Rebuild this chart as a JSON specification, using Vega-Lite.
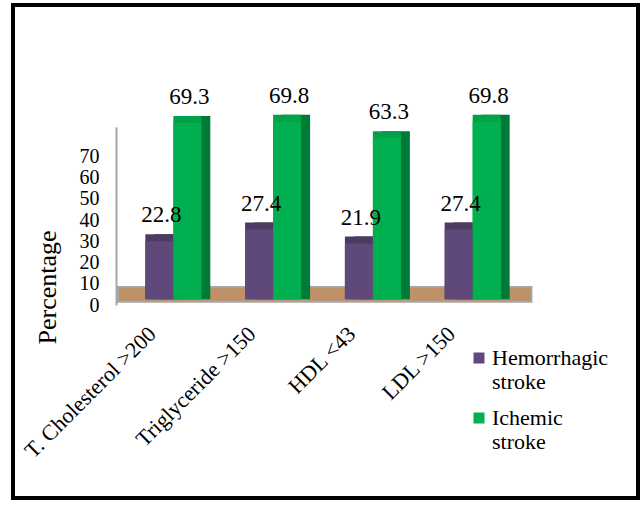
{
  "$schema": "https://vega.github.io/schema/vega-lite/v6.json",
  "autosize": {"type": "none"},
  "width": 625,
  "height": 493,
  "padding": {"left": 13, "top": 5, "right": 3, "bottom": 8},
  "background": "white",
  "config": {
    "view": {"stroke": "black", "strokeWidth": 4},
    "font": "Liberation Serif",
    "axis": {"labelFont": "Liberation Serif", "titleFont": "Liberation Serif", "labelColor": "black", "titleColor": "black"},
    "legend": {"labelFont": "Liberation Serif", "labelColor": "black"},
    "text": {"font": "Liberation Serif"}
  },
  "data": {
    "values": [
      {"factor": "T. Cholesterol >200", "stroke": "Hemorrhagic stroke", "pct": 22.8},
      {"factor": "T. Cholesterol >200", "stroke": "Ichemic stroke", "pct": 69.3},
      {"factor": "Triglyceride >150", "stroke": "Hemorrhagic stroke", "pct": 27.4},
      {"factor": "Triglyceride >150", "stroke": "Ichemic stroke", "pct": 69.8},
      {"factor": "HDL <43", "stroke": "Hemorrhagic stroke", "pct": 21.9},
      {"factor": "HDL <43", "stroke": "Ichemic stroke", "pct": 63.3},
      {"factor": "LDL >150", "stroke": "Hemorrhagic stroke", "pct": 27.4},
      {"factor": "LDL >150", "stroke": "Ichemic stroke", "pct": 69.8}
    ]
  },
  "encoding": {
    "x": {
      "field": "factor",
      "type": "nominal",
      "scale": {
        "domain": ["T. Cholesterol >200", "Triglyceride >150", "HDL <43", "LDL >150"],
        "range": [105, 515],
        "paddingInner": 0.439,
        "paddingOuter": 0.274
      },
      "axis": {
        "title": null,
        "orient": "bottom",
        "offset": -193,
        "domain": false,
        "ticks": false,
        "labelAngle": -45,
        "labelAlign": "right",
        "labelBaseline": "middle",
        "labelPadding": 25,
        "labelOffset": -21,
        "labelFontSize": 22,
        "labelLimit": 300
      }
    }
  },
  "resolve": {"scale": {"y": "independent", "color": "independent", "xOffset": "independent"}},
  "layer": [
    {
      "data": {"values": [{}]},
      "mark": {"type": "rect", "color": "#bf9169", "stroke": "#a6a6a6", "strokeWidth": 2},
      "encoding": {
        "x": {"datum": "T. Cholesterol >200", "bandPosition": -0.49},
        "x2": {"datum": "LDL >150", "bandPosition": 1.55},
        "y": {"datum": 4.8, "type": "quantitative", "scale": {"domain": [0, 70], "range": [294.3, 116.15]}, "axis": null},
        "y2": {"datum": -1.0}
      }
    },
    {
      "mark": {"type": "bar", "yOffset": -7},
      "encoding": {
        "xOffset": {"field": "stroke", "type": "nominal", "scale": {"range": [9, 64.98]}},
        "y": {"field": "pct", "type": "quantitative", "scale": {"domain": [0, 70], "range": [294.3, 116.15]}, "axis": null},
        "y2": {"datum": 0},
        "color": {"field": "stroke", "type": "nominal", "scale": {"range": ["#3f3152", "#007a37"]}, "legend": null}
      }
    },
    {
      "mark": {"type": "bar", "yOffset": -7},
      "encoding": {
        "xOffset": {"field": "stroke", "type": "nominal", "scale": {"range": [0, 55.98]}},
        "y": {"field": "pct", "type": "quantitative", "scale": {"domain": [0, 70], "range": [294.3, 116.15]}, "axis": null},
        "y2": {"datum": 0},
        "color": {"field": "stroke", "type": "nominal", "scale": {"range": ["#4b3b62", "#00a247"]}, "legend": null}
      }
    },
    {
      "mark": {"type": "bar"},
      "encoding": {
        "xOffset": {"field": "stroke", "type": "nominal", "scale": {"range": [0, 55.98]}},
        "y": {"field": "pct", "type": "quantitative", "scale": {"domain": [0, 70], "range": [294.3, 116.15]}, "axis": null},
        "y2": {"datum": 0},
        "color": {
          "field": "stroke",
          "type": "nominal",
          "scale": {"domain": ["Hemorrhagic stroke", "Ichemic stroke"], "range": ["#5f497a", "#00b050"]},
          "legend": {
            "title": null,
            "orient": "none",
            "legendX": 455,
            "legendY": 342,
            "padding": 0,
            "symbolType": "square",
            "symbolSize": 121,
            "symbolStrokeWidth": 0,
            "labelFont": "Liberation Serif",
            "labelFontSize": 22,
            "labelOffset": 2,
            "labelLimit": 200,
            "labelExpr": "split(datum.label, ' ')",
            "rowPadding": 14
          }
        }
      }
    },
    {
      "mark": {"type": "text", "fontSize": 23, "font": "Liberation Serif", "baseline": "alphabetic", "dy": -19, "dx": 2, "color": "black"},
      "encoding": {
        "xOffset": {"field": "stroke", "type": "nominal", "scale": {"range": [0, 55.98]}},
        "y": {"field": "pct", "type": "quantitative", "scale": {"domain": [0, 70], "range": [294.3, 116.15]}, "axis": null},
        "text": {"field": "pct", "type": "quantitative", "format": ".1f"}
      }
    },
    {
      "mark": {"type": "point", "opacity": 0},
      "encoding": {
        "y": {
          "field": "pct",
          "type": "quantitative",
          "scale": {"domain": [0, 84], "range": [300, 121.8]},
          "axis": {
            "orient": "left",
            "offset": -103,
            "values": [0, 10, 20, 30, 40, 50, 60, 70],
            "labelOverlap": false,
            "grid": false,
            "ticks": false,
            "domainColor": "#a6a6a6",
            "domainWidth": 2,
            "labelFontSize": 20,
            "labelPadding": 17,
            "title": "Percentage",
            "titleFontSize": 26,
            "titleFontWeight": "normal",
            "titleAngle": -90,
            "titleX": -69,
            "titleY": 282,
            "titleAlign": "center",
            "titleBaseline": "middle"
          }
        }
      }
    }
  ]
}
